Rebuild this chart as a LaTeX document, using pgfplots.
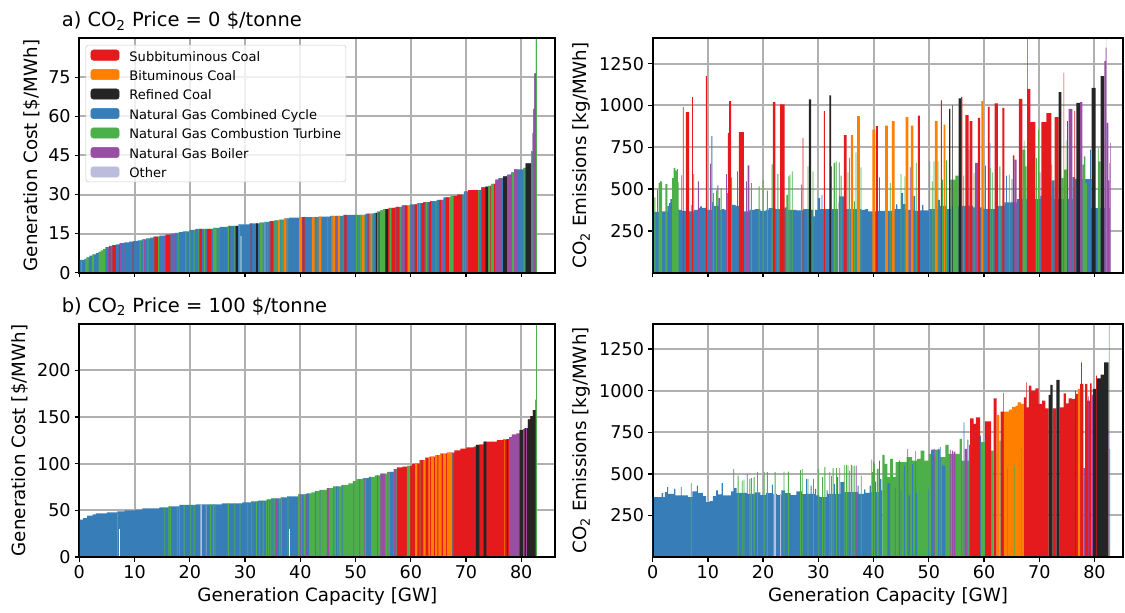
\documentclass[border=0pt]{standalone}
\usepackage{fontspec}
\setmainfont{DejaVu Sans}
\usepackage{pgfplots}
\pgfplotsset{compat=1.18}
\definecolor{cR}{HTML}{E41A1C}
\definecolor{cO}{HTML}{FF7F00}
\definecolor{cK}{HTML}{252525}
\definecolor{cB}{HTML}{377EB8}
\definecolor{cG}{HTML}{4DAF4A}
\definecolor{cP}{HTML}{984EA3}
\definecolor{cL}{HTML}{BCBDDC}
\definecolor{gridgray}{HTML}{B0B0B0}
\pgfplotsset{
  panel/.style={
    scale only axis, xmin=0, ymin=0, xtick={0,10,...,80},
    tick align=outside, tick pos=left, major tick length=3.5pt,
    tick style={line width=1pt, black},
    axis line style={line width=1.5pt},
    grid=major, major grid style={line width=1.5pt, color=gridgray},
    ticklabel style={font=\fontsize{13.2}{15}\selectfont, inner sep=2.8pt},
    label style={font=\fontsize{13.7}{16}\selectfont},
    /pgf/number format/assume math mode=true,
    /pgf/number format/1000 sep={},
  },
  bar/.style={const plot, draw=none, forget plot, fill=#1, mark=none},
}
\newcommand\frameit{\draw[line width=1.5pt, black] (rel axis cs:0,0) rectangle (rel axis cs:1,1);}
\newcommand\leg[2]{\addlegendimage{legend image code/.code={\fill[#1, fill opacity=1] (0pt,-3.85pt) rectangle (21.2pt,3.85pt);}}\addlegendentry{\rule[-4.2pt]{0pt}{14.6pt}#2}}
\begin{document}
\begin{tikzpicture}
\node[anchor=base west, font=\fontsize{14.6}{17}\selectfont, inner sep=0pt] at (46.2pt,-20pt) {a) CO\textsubscript{2} Price = 0 \$/tonne};
\node[anchor=base west, font=\fontsize{14.6}{17}\selectfont, inner sep=0pt] at (46.2pt,-234.1pt) {b) CO\textsubscript{2} Price = 100 \$/tonne};
% ---------------- a) cost
\begin{axis}[panel, at={(59.5pt,-28.7pt)}, anchor=north west, width=357.1pt, height=175.8pt,
  xmax=86.2, ymax=90, ytick={0,15,...,75}, xticklabels={},
  ylabel={Generation Cost [\$/MWh]},
  legend cell align=left,
  legend style={at={(0.0134,0.9716)}, anchor=north west, draw=black!20, rounded corners=2pt,
    fill=white, fill opacity=0.8, text opacity=1, font=\fontsize{9.8}{11}\selectfont,
    inner xsep=3.5pt, inner ysep=1.5pt, row sep=2.7pt, nodes={inner sep=0pt},
    /tikz/every odd column/.style={column sep=7.5pt}}]
\leg{cR}{Subbituminous Coal}
\leg{cO}{Bituminous Coal}
\leg{cK}{Refined Coal}
\leg{cB}{Natural Gas Combined Cycle}
\leg{cG}{Natural Gas Combustion Turbine}
\leg{cP}{Natural Gas Boiler}
\leg{cL}{Other}
\addplot[bar=cB] coordinates {(0,4.9)(0.9,5.3)(1.3,5.9)(1.8,6.5)(2.4,7.0)(3.0,7.5)(3.5,8.0)(3.9,8.5)(4.3,9.0)(4.7,9.8)(5.4,10.3)(6.0,10.6)(6.6,10.9)(7.3,11.3)(8.2,11.6)(9.0,11.9)(9.7,12.1)(10.6,12.4)(11.3,12.8)(12.1,13.2)(12.8,13.5)(13.4,13.8)(14.5,14.2)(15.6,14.6)(16.5,15.0)(17.3,15.3)(18.0,15.6)(18.7,15.9)(19.9,16.4)(21.0,16.8)(24.2,17.2)(25.4,17.6)(26.9,18.0)(28.8,18.5)(30.8,18.9)(32.6,19.2)(33.4,19.5)(34.4,19.8)(35.3,20.1)(36.2,20.4)(37.1,20.8)(38.0,21.1)(39.9,21.3)(43.3,21.5)(45.4,21.8)(47.8,22.2)(51.8,22.7)(53.3,23.0)(53.9,23.4)(54.5,23.9)(55.0,24.4)(56.0,24.9)(57.2,25.3)(58.4,25.8)(59.9,26.2)(61.1,26.7)(62.3,27.1)(63.5,27.5)(64.7,27.9)(65.9,28.9)(67.2,29.5)(68.4,30.0)(69.6,31.2)(70.4,31.7)(72.8,32.7)(73.5,33.0)(74.0,33.3)(74.6,34.1)(75.3,35.7)(75.9,36.3)(76.7,37.0)(77.4,37.6)(78.2,38.5)(78.7,39.7)(80.4,40.2)(80.8,42.0)(81.8,46.6)(82.05,53.7)(82.2,62.9)(82.4,76.5)(82.65,120)(82.85,0)} \closedcycle;
\addplot[bar=cG] coordinates {(0.3,4.9)(0.48,0)(1.1,5.3)(1.3,5.9)(1.7,0)(2.3,6.5)(2.4,7.0)(2.65,0)(3.5,8.0)(3.9,8.5)(4.3,9.0)(4.7,0)(10.9,12.4)(11.08,0)(11.5,12.8)(11.68,0)(12.3,13.2)(12.48,0)(13.45,13.8)(13.6,0)(14.2,13.8)(14.38,0)(17.8,15.3)(17.98,0)(19.2,15.9)(19.38,0)(19.9,16.4)(20.08,0)(20.7,16.4)(20.88,0)(21.55,16.8)(21.72,0)(22.6,16.8)(22.78,0)(24.2,17.2)(24.5,0)(24.55,17.2)(24.7,0)(24.8,17.2)(24.95,0)(25.2,17.2)(25.35,0)(26.9,18.0)(27.05,0)(28.05,18.0)(28.2,0)(28.95,18.5)(29.1,0)(32.75,19.2)(33.05,0)(33.15,19.2)(33.3,0)(34.05,19.5)(34.2,0)(35.3,20.1)(35.45,0)(35.55,20.1)(35.7,0)(36.45,20.4)(36.6,0)(36.75,20.4)(36.9,0)(37.65,20.8)(37.8,0)(42.95,21.3)(43.1,0)(44.9,21.5)(45.05,0)(45.6,21.8)(45.75,0)(47.65,21.8)(47.8,0)(50.1,22.2)(50.25,0)(50.55,22.2)(50.7,0)(50.85,22.2)(51.0,0)(51.6,22.2)(51.75,0)(52.4,22.7)(52.55,0)(53.1,22.7)(53.25,0)(53.9,23.4)(54.2,0)(54.3,23.4)(54.5,23.9)(55.0,24.4)(55.4,0)(56.25,24.9)(56.4,0)(58.1,25.3)(58.25,0)(61.15,26.7)(61.3,0)(61.5,26.7)(61.65,0)(62.8,27.1)(62.95,0)(64.5,27.5)(64.65,0)(66.95,28.9)(67.2,29.5)(67.5,0)(67.55,29.5)(67.7,0)(69.4,30.0)(69.55,0)(69.8,31.2)(69.95,0)(72.2,31.7)(72.35,0)(74.0,33.3)(74.4,0)(74.5,33.3)(74.6,34.1)(75.05,0)(78.3,38.5)(78.7,0)(80.45,40.2)(80.6,0)(81.8,46.6)(82.05,0)(82.65,120)(82.85,0)} \closedcycle;
\addplot[bar=cR] coordinates {(5.45,10.3)(5.6,0)(6.0,10.6)(6.6,0)(7.15,10.9)(7.3,0)(9.65,11.9)(9.8,0)(13.6,13.8)(14.2,0)(15.6,14.6)(16.5,0)(21.75,16.8)(22.2,0)(23.1,16.8)(23.9,0)(27.15,18.0)(27.3,0)(31.0,18.9)(31.2,0)(34.6,19.8)(35.1,0)(40.4,21.3)(40.8,0)(48.0,22.2)(48.4,0)(52.2,22.7)(52.35,0)(55.85,24.4)(56.0,24.9)(56.1,0)(56.6,24.9)(57.2,0)(57.4,25.3)(57.9,0)(58.9,25.8)(59.3,0)(60.7,26.2)(61.1,0)(61.9,26.7)(62.3,27.1)(62.5,0)(63.3,27.1)(63.5,27.5)(63.7,0)(65.2,27.9)(65.5,0)(66.3,28.9)(66.9,0)(67.8,29.5)(68.4,30.0)(69.3,0)(70.4,31.7)(72.2,0)(72.8,32.7)(73.5,0)(74.4,33.3)(74.5,0)(75.1,34.1)(75.25,0)} \closedcycle;
\addplot[bar=cO] coordinates {(35.9,20.1)(36.2,20.4)(36.3,0)(37.0,20.4)(37.1,20.8)(37.5,0)(39.8,21.1)(39.9,21.3)(40.3,0)(42.1,21.3)(42.6,0)(43.3,21.5)(43.8,0)(45.8,21.8)(46.3,0)(46.75,21.8)(47.2,0)(51.1,22.2)(51.6,0)(52.7,22.7)(53.0,0)(59.5,25.8)(59.9,0)} \closedcycle;
\addplot[bar=cK] coordinates {(28.3,18.0)(28.7,0)(32.0,18.9)(32.3,0)(53.7,23.0)(53.9,0)(54.2,23.4)(54.3,0)(55.4,24.4)(55.85,0)(73.5,33.0)(74.0,0)(76.7,37.0)(77.4,0)(80.8,42.0)(81.8,0)} \closedcycle;
\addplot[bar=cP] coordinates {(5.2,9.8)(5.35,0)(7.35,11.3)(7.5,0)(8.2,11.6)(8.35,0)(10.4,12.1)(10.55,0)(11.7,12.8)(11.9,0)(13.3,13.5)(13.45,0)(15.3,14.2)(15.45,0)(16.9,15.0)(17.05,0)(17.2,15.0)(17.5,0)(46.55,21.8)(46.7,0)(58.4,25.8)(58.9,0)(60.2,26.2)(60.35,0)(65.5,27.9)(65.9,0)(70.05,31.2)(70.2,0)(75.3,35.7)(75.9,36.3)(76.5,0)(77.6,37.6)(78.2,38.5)(78.3,0)(78.7,39.7)(79.3,0)(82.05,53.7)(82.2,62.9)(82.4,76.5)(82.65,0)} \closedcycle;
\addplot[bar=cL] coordinates {(33.55,19.5)(33.7,0)} \closedcycle;
\addplot[bar=white] coordinates {(29.2,14)(29.32,0)} \closedcycle;
\frameit
\end{axis}
% ---------------- a) emissions
\begin{axis}[panel, at={(489.5pt,-28.7pt)}, anchor=north west, width=353.1pt, height=175.8pt,
  xmax=85.25, ymax=1402, ytick={250,500,...,1250}, xticklabels={},
  ylabel={CO\textsubscript{2} Emissions [kg/MWh]}]
\addplot[bar=cB] coordinates {(0,364)(0.8,496)(0.95,364)(1.7,366)(2.65,400)(3.0,416)(3.2,440)(3.5,380)(4.7,376)(5.3,370)(6.6,366)(6.9,406)(7.05,366)(7.5,376)(8.3,388)(8.6,396)(8.9,388)(9.8,376)(10.65,816)(10.8,420)(11.1,400)(11.9,446)(12.2,376)(12.5,380)(13.0,376)(14.4,406)(15.0,400)(16.5,366)(17.5,376)(18.5,380)(19.5,370)(20.5,376)(21.0,386)(22.2,380)(23.9,390)(24.3,376)(26.0,372)(27.3,380)(28.7,376)(29.1,336)(29.4,376)(29.9,446)(30.3,380)(30.6,466)(30.75,380)(32.3,636)(32.45,380)(33.7,660)(33.85,456)(34.6,380)(37.8,376)(38.5,380)(39.0,366)(40.8,370)(41.0,570)(41.15,370)(43.8,380)(44.1,408)(44.3,380)(45.0,476)(45.36,410)(45.8,376)(47.2,460)(47.5,370)(48.4,372)(48.8,406)(49.0,372)(50.0,380)(51.6,436)(52.0,400)(53.3,380)(54.0,400)(57.2,736)(57.35,400)(58.0,390)(59.9,380)(61.0,776)(61.15,380)(62.5,400)(63.7,420)(64.0,580)(64.15,420)(65.0,560)(65.15,420)(66.0,440)(70.2,460)(71.3,672)(71.45,460)(72.2,552)(72.8,440)(76.0,572)(76.5,560)(79.2,736)(79.35,560)(79.5,386)(82.85,0)} \closedcycle;
\addplot[bar=cG] coordinates {(0.3,450)(0.48,0)(1.1,536)(1.3,546)(1.7,0)(2.3,530)(2.65,0)(3.5,566)(3.8,625)(4.1,610)(4.4,620)(4.55,540)(4.7,0)(10.9,476)(11.08,0)(11.5,492)(11.68,0)(12.3,506)(12.48,0)(13.45,476)(13.6,0)(14.2,570)(14.38,0)(17.8,536)(17.98,0)(19.2,516)(19.38,0)(19.9,556)(20.08,0)(20.7,490)(20.88,0)(21.55,648)(21.72,0)(22.6,590)(22.78,0)(24.2,466)(24.5,0)(24.55,576)(24.7,0)(24.8,586)(24.95,0)(25.2,606)(25.35,0)(26.9,526)(27.05,0)(28.05,636)(28.2,0)(28.95,606)(29.1,0)(32.75,656)(33.05,0)(33.15,666)(33.3,0)(34.05,580)(34.2,0)(35.3,600)(35.45,0)(35.55,686)(35.7,0)(36.45,426)(36.6,0)(36.75,720)(36.9,0)(37.65,630)(37.8,0)(42.95,536)(43.1,0)(44.9,590)(45.05,0)(45.6,576)(45.75,0)(47.65,656)(47.8,0)(50.1,666)(50.25,0)(50.55,546)(50.7,0)(50.85,666)(51.0,0)(51.6,666)(51.75,0)(52.4,556)(52.55,0)(53.1,672)(53.25,0)(53.9,556)(54.2,0)(54.3,556)(54.8,580)(55.4,0)(56.25,580)(56.4,0)(58.1,596)(58.25,0)(61.15,626)(61.3,0)(61.5,600)(61.65,0)(62.8,636)(62.95,0)(64.5,586)(64.65,0)(66.95,736)(67.2,790)(67.3,736)(67.5,0)(67.55,636)(67.7,0)(69.4,686)(69.55,0)(69.8,856)(69.95,0)(72.2,646)(72.35,0)(74.0,566)(74.4,0)(74.5,616)(74.8,792)(74.9,616)(75.05,0)(77.8,646)(78.1,696)(78.35,536)(78.6,0)(80.6,746)(80.75,666)(81.1,0)(82.7,656)(82.85,0)} \closedcycle;
\addplot[bar=cR] coordinates {(5.45,990)(5.6,0)(6.0,960)(6.6,0)(7.15,1050)(7.3,0)(9.65,1176)(9.8,0)(13.6,836)(13.85,1026)(14.2,0)(15.6,840)(16.5,0)(21.75,1020)(22.2,0)(23.1,1006)(23.9,0)(27.15,806)(27.3,0)(31.0,966)(31.2,0)(34.6,822)(35.1,0)(40.4,876)(40.8,0)(48.0,940)(48.4,0)(52.2,1030)(52.35,0)(55.85,1050)(56.1,0)(56.6,942)(57.2,0)(57.4,906)(57.9,0)(58.9,926)(59.3,0)(60.7,992)(61.0,0)(61.9,1012)(62.5,0)(63.3,986)(63.7,0)(65.2,702)(65.5,0)(66.3,1040)(66.95,0)(67.8,1402)(67.9,1100)(68.4,900)(69.3,0)(70.4,900)(71.3,954)(72.2,0)(72.8,930)(73.5,0)(74.4,1196)(74.5,0)(75.05,906)(75.2,0)(76.35,966)(76.5,0)} \closedcycle;
\addplot[bar=cO] coordinates {(35.9,822)(36.3,0)(37.0,936)(37.5,0)(39.8,856)(40.3,0)(42.1,880)(42.6,0)(43.3,906)(43.8,0)(45.8,930)(46.3,0)(46.75,880)(47.2,0)(51.1,906)(51.6,0)(52.7,886)(53.0,0)(59.5,1026)(59.9,0)} \closedcycle;
\addplot[bar=cK] coordinates {(28.3,1036)(28.7,0)(32.0,1060)(32.3,0)(53.7,980)(53.9,0)(54.2,1000)(54.3,0)(55.4,1042)(55.85,0)(73.5,1080)(74.0,0)(76.7,1016)(77.4,0)(79.5,1106)(80.2,0)(81.1,1176)(81.8,0)} \closedcycle;
\addplot[bar=cP] coordinates {(5.2,582)(5.35,0)(7.35,590)(7.5,0)(8.2,546)(8.35,0)(10.4,652)(10.55,0)(11.7,522)(11.9,0)(13.3,590)(13.45,0)(15.3,606)(15.45,0)(16.9,546)(17.05,0)(17.2,642)(17.5,0)(46.55,630)(46.7,0)(58.4,656)(58.9,0)(60.2,640)(60.35,0)(65.5,676)(65.9,0)(70.05,600)(70.2,0)(75.3,980)(76.0,0)(77.4,1020)(77.8,0)(81.8,1266)(82.0,1346)(82.2,0)(82.25,896)(82.5,552)(82.7,0)(82.85,776)(82.92,0)} \closedcycle;
\addplot[bar=cL] coordinates {(33.55,420)(33.7,0)(82.2,1402)(82.25,0)} \closedcycle;
\frameit
\end{axis}
% ---------------- b) cost
\begin{axis}[panel, at={(59.5pt,-242.8pt)}, anchor=north west, width=357.1pt, height=175pt,
  xmax=86.2, ymax=250, ytick={0,50,...,200},
  xlabel={Generation Capacity [GW]}, ylabel={Generation Cost [\$/MWh]}]
\addplot[bar=cB] coordinates {(0,40.2)(0.7,41.6)(1.4,44.4)(2.4,45.8)(3.0,46.9)(5.0,48.0)(6.9,49.0)(8.2,50.1)(10.1,50.8)(11.4,52.2)(14.5,53.3)(16.2,54.4)(18.1,55.8)(21.1,56.5)(25.8,57.6)(29.5,58.6)(31.1,59.7)(32.3,60.4)(33.9,61.8)(34.7,62.9)(36.5,64.0)(37.6,65.0)(39.6,67.2)(41.1,68.2)(41.6,0)} \closedcycle;
\addplot[bar=cG] coordinates {(41.6,68.2)(42.0,69.3)(42.7,70.7)(43.5,72.1)(44.8,73.9)(46.0,75.7)(47.5,77.1)(48.7,79.0)(49.5,81.4)(50.2,83.5)(51.3,84.5)(52.4,86.0)(53.5,87.5)(54.5,89.5)(55.7,91.3)(56.9,94.2)(57.5,0)} \closedcycle;
\addplot[bar=cR] coordinates {(57.5,96.0)(58.5,97.0)(59.4,97.7)(60.2,99.9)(60.8,100.2)(61.6,103.8)(62.6,106.6)(63.4,107.7)(64.4,109.1)(65.3,110.9)(66.5,112.0)(67.9,114.4)(69.0,116.2)(70.05,117.6)(71.4,118.3)(71.8,120.1)(72.4,120.8)(73.2,123.7)(75.6,125.4)(76.7,126.0)(77.4,126.5)(77.8,128.6)(78.3,131.1)(79.1,132.2)(79.7,136.1)(80.3,137.0)(80.6,138.2)(81.2,147.5)(81.65,151.0)(82.1,157.4)(82.55,168.8)(82.7,0)} \closedcycle;
\addplot[bar=cG] coordinates {(6.85,48.0)(7.0,0)(15.4,53.3)(15.55,0)(16.1,54.4)(16.25,0)(16.4,54.4)(16.55,0)(17.65,54.4)(17.8,0)(18.05,54.4)(18.2,0)(18.9,55.8)(19.05,0)(20.1,55.8)(20.25,0)(20.7,55.8)(20.85,0)(23.7,56.5)(23.85,0)(24.2,56.5)(24.35,0)(24.5,56.5)(24.65,0)(26.9,57.6)(27.05,0)(28.05,57.6)(28.2,0)(29.0,57.6)(29.15,0)(30.4,58.6)(30.55,0)(31.15,59.7)(31.3,0)(32.0,59.7)(32.15,0)(32.6,60.4)(32.75,0)(33.2,60.4)(33.35,0)(33.8,60.4)(33.95,0)(34.2,61.8)(34.35,0)(34.6,61.8)(34.75,0)(35.0,62.9)(35.15,0)(35.3,62.9)(35.45,0)(36.2,62.9)(36.35,0)(36.5,64.0)(36.65,0)(37.7,65.0)(37.85,0)(39.6,67.2)(39.75,0)(39.85,67.2)(40.0,0)(40.15,67.2)(40.3,0)(40.6,67.2)(40.75,0)(40.8,67.2)(40.95,0)(59.3,97.0)(59.4,97.7)(59.9,0)(61.6,103.8)(61.75,0)(82.7,260)(82.85,0)} \closedcycle;
\addplot[bar=cB] coordinates {(42.7,70.7)(42.85,0)(43.5,72.1)(43.65,0)(46.0,75.7)(46.15,0)(46.5,75.7)(46.65,0)(46.8,75.7)(46.95,0)(47.5,77.1)(47.65,0)(49.6,81.4)(49.75,0)(51.9,84.5)(52.4,86.0)(52.8,0)(56.2,91.3)(56.9,0)(67.55,112.0)(67.7,0)} \closedcycle;
\addplot[bar=cO] coordinates {(60.8,100.2)(61.2,0)(62.3,103.8)(62.6,106.6)(62.7,0)(63.2,106.6)(63.4,107.7)(63.5,0)(63.7,107.7)(64.2,0)(64.4,109.1)(64.8,0)(65.0,109.1)(65.3,110.9)(65.6,0)(65.85,110.9)(66.4,0)(66.6,112.0)(67.5,0)(76.9,126.0)(77.0,0)} \closedcycle;
\addplot[bar=cP] coordinates {(35.6,62.9)(35.75,0)(36.85,64.0)(37.0,0)(40.0,67.2)(40.15,0)(41.0,67.2)(41.15,0)(44.8,73.9)(45.2,0)(50.7,83.5)(50.85,0)(51.5,84.5)(51.65,0)(53.9,87.5)(54.05,0)(54.5,89.5)(55.4,0)(55.8,91.3)(55.95,0)(57.0,94.2)(57.4,0)(77.8,128.6)(78.3,131.1)(79.1,132.2)(79.7,0)(80.3,137.0)(80.6,0)} \closedcycle;
\addplot[bar=cK] coordinates {(71.8,120.1)(72.4,0)(73.2,123.7)(73.7,0)(77.4,126.5)(77.55,0)(79.7,136.1)(80.3,0)(80.6,138.2)(81.2,147.5)(81.65,151.0)(82.1,157.4)(82.55,0)} \closedcycle;
\addplot[bar=cP] coordinates {(80.9,138.2)(81.0,0)} \closedcycle;
\addplot[bar=cL] coordinates {(21.9,56.5)(22.2,0)(22.9,56.5)(23.0,0)} \closedcycle;
\addplot[bar=white] coordinates {(7.2,30)(7.32,0)(38.0,30)(38.12,0)} \closedcycle;
\frameit
\end{axis}
% ---------------- b) emissions
\begin{axis}[panel, at={(489.5pt,-242.8pt)}, anchor=north west, width=353.1pt, height=175pt,
  xmax=85.25, ymax=1402, ytick={250,500,...,1250},
  xlabel={Generation Capacity [GW]}, ylabel={CO\textsubscript{2} Emissions [kg/MWh]}]
\addplot[bar=cB] coordinates {(0,360)(1.6,384)(1.9,360)(2.2,390)(2.6,420)(2.8,380)(3.9,410)(4.1,370)(5.1,420)(5.25,370)(6.4,360)(7.2,394)(8.0,430)(8.2,386)(9.1,366)(9.7,330)(10.3,336)(10.9,366)(11.5,400)(11.8,376)(12.5,444)(12.7,370)(14.2,394)(14.6,530)(14.75,414)(15.2,386)(17.05,500)(17.2,380)(18.5,388)(19.5,372)(20.5,384)(21.6,436)(21.75,380)(22.5,372)(23.3,400)(24.0,384)(25.0,372)(26.0,394)(27.0,378)(27.8,470)(27.95,380)(28.6,430)(28.8,380)(29.4,410)(29.6,370)(30.2,360)(31.5,400)(31.7,380)(32.8,440)(33.0,380)(33.4,480)(33.6,380)(34.0,450)(34.7,390)(37.1,430)(37.3,380)(38.3,406)(38.5,386)(39.3,430)(39.5,390)(40.3,454)(40.45,390)(41.2,470)(41.4,400)(41.6,0)} \closedcycle;
\addplot[bar=cG] coordinates {(41.6,614)(42.0,560)(42.5,480)(43.0,590)(43.5,480)(44.0,570)(45.5,570)(46.0,600)(47.0,580)(47.9,590)(48.5,640)(49.2,580)(50.0,620)(50.5,600)(51.0,646)(52.0,600)(53.0,674)(53.6,620)(55.0,620)(55.6,710)(56.0,580)(57.3,660)(57.5,0)} \closedcycle;
\addplot[bar=cB] coordinates {(42.5,444)(43.0,0)(43.85,414)(44.0,0)(44.9,400)(45.05,0)(45.5,550)(45.65,0)(46.3,370)(46.6,0)(47.0,560)(47.15,0)(47.6,384)(47.9,0)(49.9,410)(50.05,0)(50.4,646)(51.0,0)(51.7,650)(51.85,0)(52.0,660)(52.15,0)(52.4,550)(53.0,0)(56.3,810)(56.45,0)(57.0,706)(57.15,0)(59.3,730)(59.45,0)} \closedcycle;
\addplot[bar=cG] coordinates {(6.9,444)(7.05,0)(15.4,490)(15.55,0)(16.15,460)(16.3,0)(16.45,466)(16.6,0)(17.5,470)(17.65,0)(17.8,474)(17.95,0)(18.3,480)(18.45,0)(18.9,510)(19.05,0)(20.1,510)(20.25,0)(20.7,510)(20.85,0)(22.1,510)(22.25,0)(23.7,514)(23.85,0)(24.5,514)(24.65,0)(26.7,522)(26.85,0)(27.0,530)(27.15,0)(28.05,470)(28.2,0)(29.05,470)(29.2,0)(30.0,530)(30.15,0)(30.7,480)(30.85,0)(31.1,540)(31.25,0)(32.0,510)(32.15,0)(32.3,486)(32.45,0)(32.6,534)(32.75,0)(33.2,534)(33.35,0)(33.8,534)(33.95,0)(34.6,554)(34.75,0)(35.0,554)(35.15,0)(35.3,550)(35.45,0)(35.9,554)(36.05,0)(36.2,550)(36.35,0)(36.5,550)(36.65,0)(37.7,490)(37.85,0)(39.6,586)(39.75,0)(39.8,510)(39.95,0)(40.1,560)(40.25,0)(40.6,530)(40.9,0)(59.45,690)(60.2,0)(61.3,640)(61.75,0)(62.8,700)(63.0,0)(82.7,650)(82.85,0)} \closedcycle;
\addplot[bar=cR] coordinates {(57.5,834)(58.1,800)(58.5,840)(59.3,0)(60.2,816)(61.3,0)(61.75,954)(62.3,0)(63.0,874)(63.5,986)(63.6,0)(67.2,960)(67.6,1050)(67.7,900)(68.1,1030)(68.55,1000)(69.3,1014)(69.9,920)(70.5,940)(71.1,894)(71.7,0)(72.4,894)(73.1,0)(73.7,900)(74.4,984)(74.8,924)(75.3,954)(75.9,950)(76.5,0)(76.6,980)(77.0,0)(77.4,1040)(77.6,1170)(77.7,1040)(78.0,0)(78.3,1040)(78.7,940)(79.2,1044)(79.5,0)(80.3,1090)(80.45,0)(82.65,1402)(82.7,0)} \closedcycle;
\addplot[bar=cO] coordinates {(62.3,854)(62.8,0)(63.6,874)(64.5,886)(65.1,902)(65.7,910)(66.1,930)(66.7,920)(67.2,0)(77.0,1010)(77.4,0)} \closedcycle;
\addplot[bar=cG] coordinates {(64.2,530)(64.32,0)(65.4,550)(65.52,0)(66.7,650)(66.82,0)} \closedcycle;
\addplot[bar=cK] coordinates {(71.7,974)(72.0,1034)(72.4,0)(73.1,1064)(73.7,0)(76.5,1000)(76.6,0)(79.7,1010)(80.3,0)(80.45,1074)(81.1,1096)(81.75,1170)(82.55,0)} \closedcycle;
\addplot[bar=cP] coordinates {(35.6,520)(35.75,0)(36.8,550)(36.95,0)(39.95,574)(40.1,0)(41.0,580)(41.15,0)(44.6,580)(44.75,0)(46.1,648)(46.25,0)(47.5,636)(47.6,0)(50.9,650)(51.05,0)(53.8,646)(53.95,0)(54.2,640)(54.35,0)(54.5,634)(54.8,0)(55.9,580)(56.05,0)(56.5,650)(56.9,0)(57.3,674)(57.45,0)(78.0,534)(78.3,0)(78.8,966)(78.95,0)(79.5,974)(79.7,0)(82.55,764)(82.6,0)} \closedcycle;
\addplot[bar=cL] coordinates {(21.9,380)(22.3,0)(23.1,380)(23.25,0)(82.6,1402)(82.65,0)} \closedcycle;
\frameit
\end{axis}
\pgfresetboundingbox
\path (0,0) rectangle (843.75pt,-459.75pt);
\end{tikzpicture}
\end{document}
